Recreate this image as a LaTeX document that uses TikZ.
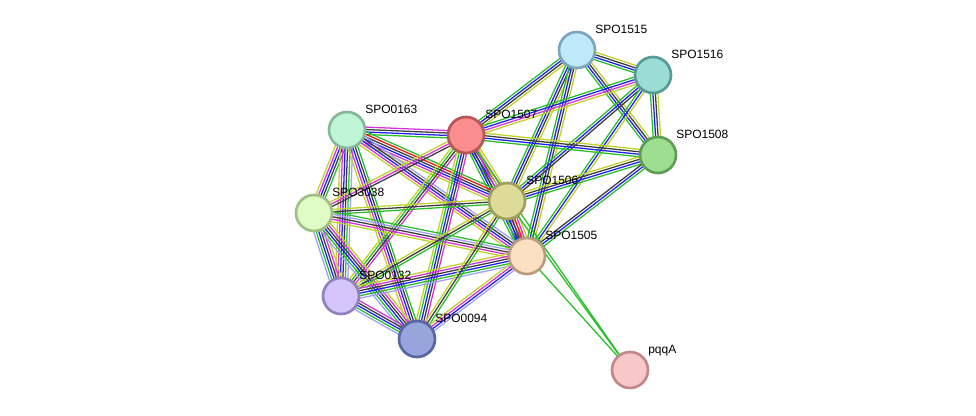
\documentclass[tikz,border=0pt]{standalone}
\usepackage{fontspec}
\setmainfont{Liberation Sans}
\usetikzlibrary{calc}
\pgfdeclarelayer{back}
\pgfdeclarelayer{bg}
\pgfsetlayers{back,bg,main}
\definecolor{cgr}{RGB}{40,190,40}
\definecolor{cbl}{RGB}{30,30,250}
\definecolor{cbk}{RGB}{60,60,60}
\definecolor{cmg}{RGB}{215,50,215}
\definecolor{ctm}{RGB}{190,210,40}
\definecolor{crd}{RGB}{240,20,20}
\definecolor{chm}{RGB}{160,160,250}
\newcommand\sedge[3]{%
  \def\lst{#3}%
  \foreach \col [count=\n] in \lst {\xdef\ncount{\n}}%
  \foreach \col [count=\i] in \lst {%
    \pgfmathsetmacro\o{(\i-(\ncount+1)/2)*1.85}%
    \draw[line width=0.95pt,\col] ($(#1.center)!\o pt!90:(#2.center)$) -- ($(#2.center)!\o pt!-90:(#1.center)$);
  }}
\tikzset{
  nd/.style={circle,minimum size=27pt,inner sep=0pt,line width=2pt},
  lab/.style={anchor=base west,inner sep=0pt,font=\fontsize{9pt}{10pt}\selectfont,text=black}
}
\begin{document}
\begin{tikzpicture}[x=0.75pt,y=-0.75pt]
\useasboundingbox (0,0) rectangle (976,416);
\begin{pgfonlayer}{back}
\fill[white] (0,0) rectangle (976,416);
\end{pgfonlayer}
% nodes
\node[nd,fill={rgb,255:red,192;green,232;blue,251},draw={rgb,255:red,125;green,165;blue,190}] (A) at (577,50) {};
\node[nd,fill={rgb,255:red,153;green,221;blue,213},draw={rgb,255:red,88;green,155;blue,148}] (B) at (653,75) {};
\node[nd,fill={rgb,255:red,158;green,222;blue,144},draw={rgb,255:red,93;green,158;blue,85}] (C) at (658,155) {};
\node[nd,fill={rgb,255:red,250;green,142;blue,142},draw={rgb,255:red,184;green,85;blue,85}] (D) at (466,135) {};
\node[nd,fill={rgb,255:red,189;green,245;blue,213},draw={rgb,255:red,133;green,184;blue,154}] (E) at (347,130) {};
\node[nd,fill={rgb,255:red,220;green,220;blue,152},draw={rgb,255:red,158;green,158;blue,94}] (F) at (507,201) {};
\node[nd,fill={rgb,255:red,224;green,252;blue,196},draw={rgb,255:red,160;green,190;blue,136}] (G) at (314,213) {};
\node[nd,fill={rgb,255:red,253;green,224;blue,194},draw={rgb,255:red,185;green,155;blue,125}] (H) at (527,256) {};
\node[nd,fill={rgb,255:red,212;green,196;blue,250},draw={rgb,255:red,144;green,128;blue,192}] (I) at (341,296) {};
\node[nd,fill={rgb,255:red,152;green,164;blue,220},draw={rgb,255:red,88;green,101;blue,160}] (J) at (417,339) {};
\node[nd,fill={rgb,255:red,248;green,200;blue,200},draw={rgb,255:red,192;green,136;blue,136}] (K) at (630,370) {};
% labels
\node[lab] (lA) at ($(A)+(18,-16)$) {SPO1515};
\node[lab] (lB) at ($(B)+(18,-16)$) {SPO1516};
\node[lab] (lC) at ($(C)+(18,-16)$) {SPO1508};
\node[lab] (lD) at ($(D)+(19,-16)$) {SPO1507};
\node[lab] (lE) at ($(E)+(18,-16)$) {SPO0163};
\node[lab] (lF) at ($(F)+(19,-16)$) {SPO1506};
\node[lab] (lG) at ($(G)+(18,-16)$) {SPO3038};
\node[lab] (lH) at ($(H)+(18,-16)$) {SPO1505};
\node[lab] (lI) at ($(I)+(18,-16)$) {SPO0132};
\node[lab] (lJ) at ($(J)+(18,-16)$) {SPO0094};
\node[lab] (lK) at ($(K)+(18,-16)$) {pqqA};
% edges
\begin{pgfonlayer}{bg}
\sedge{A}{B}{cgr,cbl,cbk,ctm}
\sedge{A}{D}{cgr,cbl,cbk,ctm}
\sedge{A}{F}{cgr,cbl,cbk,ctm}
\sedge{A}{H}{cgr,cbl,cbk,ctm}
\sedge{A}{C}{cgr,cbl,cbk,ctm}
\sedge{B}{C}{cgr,cbl,cbk,ctm}
\sedge{B}{D}{cgr,cbl,cmg,ctm}
\sedge{B}{F}{cgr,cbl,cbk}
\sedge{B}{H}{cgr,cbl,ctm}
\sedge{D}{C}{cgr,cbl,cbk,ctm}
\sedge{F}{C}{cgr,cbl,cbk,ctm}
\sedge{H}{C}{cgr,cbl,cbk}
\sedge{E}{D}{cgr,cbl,cbk,cmg}
\sedge{D}{F}{cgr,cbl,cbk,cmg,ctm}
\sedge{D}{H}{cgr,cbl,cbk,cmg,ctm}
\sedge{F}{H}{cgr,cbl,cbk,crd,cmg,ctm}
\sedge{E}{F}{ctm,cmg,cbl,cbk,crd,cgr}
\sedge{E}{H}{ctm,cmg,cbl,cbk,chm}
\sedge{E}{G}{ctm,cmg,cbl,cbk,cgr}
\sedge{E}{I}{ctm,cmg,cbl,cbk,cgr,chm}
\sedge{E}{J}{ctm,cmg,cbl,cbk,cgr}
\sedge{D}{G}{ctm,cmg,cbk}
\sedge{D}{I}{ctm,cgr,cbk,cmg}
\sedge{D}{J}{ctm,cgr,cbl,cbk,cmg}
\sedge{G}{F}{cgr,cbk,ctm}
\sedge{G}{H}{ctm,cmg,cbk,chm,cgr}
\sedge{G}{I}{chm,cgr,cbl,cbk,cmg,ctm}
\sedge{G}{J}{chm,cgr,cbl,cbk,cmg,ctm}
\sedge{I}{J}{chm,cgr,cbl,cbk,cmg}
\sedge{I}{F}{cgr,cbk,ctm}
\sedge{I}{H}{chm,cgr,cbl,cbk,cmg,ctm}
\sedge{J}{F}{cgr,cbk,ctm}
\sedge{J}{H}{chm,cbl,cmg,ctm}
\sedge{H}{K}{cgr}
\sedge{F}{K}{cgr}
\sedge{D}{K}{cgr}
\end{pgfonlayer}
\end{tikzpicture}
\end{document}
